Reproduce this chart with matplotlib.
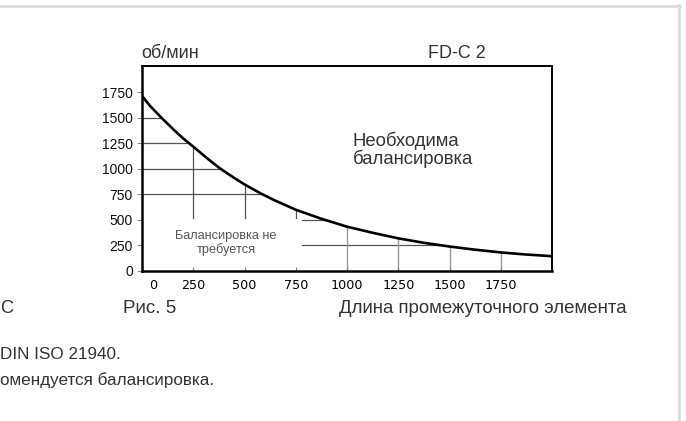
import matplotlib
matplotlib.use('Agg')
import matplotlib.pyplot as plt
import matplotlib.transforms as mtransforms
import numpy as np

plt.rcParams['font.family'] = ['Liberation Sans', 'DejaVu Sans']

# curve: intermediate element length vs rpm
length = [0, 40, 97, 153, 200, 250, 317, 377, 447, 500, 577, 642, 750, 870,
          1000, 1130, 1250, 1375, 1500, 1619, 1750, 1863, 2000]
rpm = [1715, 1615, 1497, 1387, 1300, 1218, 1105, 1010, 915, 848, 762, 697, 600, 515,
       434, 372, 320, 276, 240, 210, 182, 163, 145]

# helper grid segments
h_left = [1500, 1250, 1000, 750]      # from x=0 to the curve
h_right = [500, 250]                  # from x=780 to the curve
h_right_start = 780
v_short = [250, 500, 750]             # from 520 up to the curve
v_short_bottom = 520
v_full = [1000, 1250, 1500, 1750]     # from 0 up to the curve

x_ticks = [0, 250, 500, 750, 1000, 1250, 1500, 1750]
y_ticks = [0, 250, 500, 750, 1000, 1250, 1500, 1750]

W, H = 686, 421
fig = plt.figure(figsize=(W / 100, H / 100), dpi=100)
fig.patch.set_facecolor('white')

ax = fig.add_axes([142 / W, (H - 271) / H, 410 / W, 205 / H])
ax.set_xlim(0, 2000)
ax.set_ylim(0, 2008)

rev_rpm = rpm[::-1]
rev_len = length[::-1]
for lv in h_left:
    xe = np.interp(lv, rev_rpm, rev_len)
    ax.plot([0, xe], [lv, lv], color='#555555', lw=0.9, zorder=1)
for lv in h_right:
    xe = np.interp(lv, rev_rpm, rev_len)
    ax.plot([h_right_start, xe], [lv, lv], color='#555555', lw=0.9, zorder=1)
for xv in v_short:
    ye = np.interp(xv, length, rpm)
    ax.plot([xv, xv], [v_short_bottom, ye], color='#555555', lw=0.9, zorder=1)
for xv in v_full:
    ye = np.interp(xv, length, rpm)
    ax.plot([xv, xv], [0, ye], color='#999999', lw=1.0, zorder=1)

ax.plot(length, rpm, color='black', lw=1.9, zorder=3)

for side in ['left', 'bottom']:
    ax.spines[side].set_linewidth(1.8)
for side in ['top', 'right']:
    ax.spines[side].set_linewidth(1.4)

ax.set_xticks(x_ticks)
ax.set_yticks(y_ticks)
ax.set_xticklabels([str(t) for t in x_ticks])
ax.set_yticklabels([str(t) for t in y_ticks])
ax.tick_params(axis='y', direction='out', length=3.5, width=0.8, color='#888888',
               pad=3, labelsize=10, labelcolor='#111111')
ax.tick_params(axis='x', direction='in', length=3, width=0.8, color='#888888',
               pad=6, labelsize=9.2, labelcolor='#000000')
for lbl in ax.get_xticklabels():
    lbl.set_fontfamily('DejaVu Sans')
# the "0" label sits a bit to the right in the original
shift = mtransforms.ScaledTranslation(11 / 100, 0, fig.dpi_scale_trans)
lbl0 = ax.get_xticklabels()[0]
lbl0.set_transform(lbl0.get_transform() + shift)

# overlay in pixel coordinates for the page texts and frame
bg = fig.add_axes([0, 0, 1, 1], zorder=5)
bg.set_xlim(0, W)
bg.set_ylim(H, 0)
bg.axis('off')
bg.patch.set_visible(False)

bg.plot([0, 680], [5.5, 5.5], color='#dcdcdc', lw=2.0)
bg.plot([678.5, 678.5], [5, H], color='#dcdcdc', lw=2.0)

txt = '#333333'
bg.text(141, 57.5, 'об/мин', fontsize=13, color=txt, va='baseline', ha='left')
bg.text(428, 57.5, 'FD-C 2', fontsize=13, color=txt, va='baseline', ha='left')
bg.text(353, 146, 'Необходима', fontsize=13.3, color=txt, va='baseline', ha='left')
bg.text(353, 163.5, 'балансировка', fontsize=13.3, color=txt, va='baseline', ha='left')
bg.text(226, 243, 'Балансировка не\nтребуется', fontsize=9.2, color='#555555',
        va='center', ha='center', multialignment='center', linespacing=1.05)
bg.text(123, 313, 'Рис. 5', fontsize=13.6, color=txt, va='baseline', ha='left')
bg.text(339, 313, 'Длина промежуточного элемента', fontsize=13.4, color=txt,
        va='baseline', ha='left')
bg.text(0, 313, 'С', fontsize=13.2, color=txt, va='baseline', ha='left')
bg.text(0, 359, 'DIN ISO 21940.', fontsize=12.3, color=txt, va='baseline', ha='left')
bg.text(0, 385, 'омендуется балансировка.', fontsize=12.3, color=txt,
        va='baseline', ha='left')

fig.savefig('out.png', dpi=100, facecolor='white')
